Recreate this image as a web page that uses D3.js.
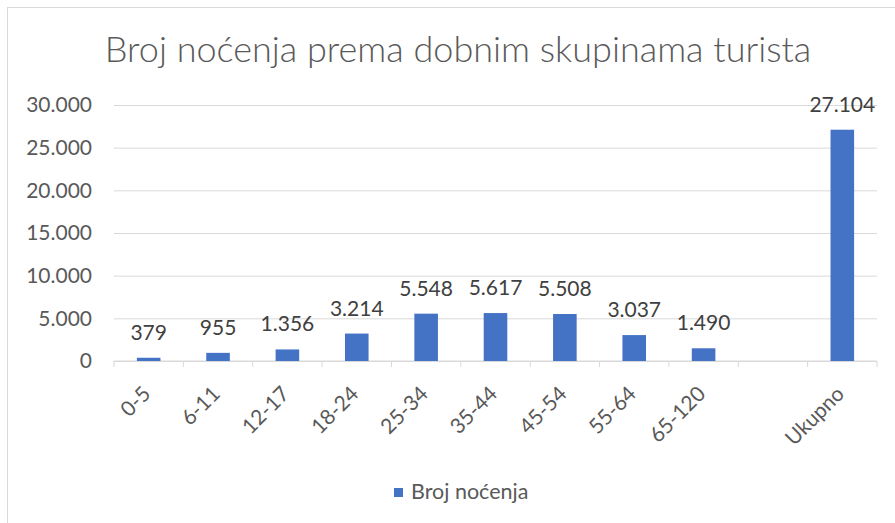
<!DOCTYPE html>
<html>
<head>
<meta charset="utf-8">
<script src="https://cdn.jsdelivr.net/npm/d3@7"></script>
<style>
  body { margin: 0; background: #fff; }
  text { font-family: Lato, "Open Sans", sans-serif; }
</style>
</head>
<body>
<script>
const width = 895;
const height = 523;

// chart data
const categories = ["0-5", "6-11", "12-17", "18-24", "25-34", "35-44", "45-54", "55-64", "65-120", "", "Ukupno"];
const values = [379, 955, 1356, 3214, 5548, 5617, 5508, 3037, 1490, null, 27104];
const yTicks = [0, 5000, 10000, 15000, 20000, 25000, 30000];
const seriesName = "Broj noćenja";

const data = categories.map((c, i) => ({ key: i, cat: c, value: values[i] }));

const margin = { left: 114, right: 18, top: 105, bottom: 162 };

const svg = d3.select("body")
  .append("svg")
  .attr("width", width)
  .attr("height", height);

// outer chart border (only left and top visible)
svg.append("rect")
  .attr("x", 7.5).attr("y", 7.5)
  .attr("width", 950).attr("height", 600)
  .attr("fill", "none")
  .attr("stroke", "#d9d9d9");

const x = d3.scaleBand()
  .domain(data.map(d => d.key))
  .range([margin.left, width - margin.right])
  .paddingInner(0.66)
  .paddingOuter(0.33);

const y = d3.scaleLinear()
  .domain([0, 30000])
  .range([height - margin.bottom, margin.top]);

const fmt = d3.formatLocale({ decimal: ",", thousands: ".", grouping: [3], currency: ["", ""] }).format(",d");

// title
svg.append("text")
  .attr("x", 458).attr("y", 62)
  .attr("text-anchor", "middle")
  .attr("fill", "#595959")
  .style("font-size", "36px")
  .style("font-weight", 300)
  .text("Broj noćenja prema dobnim skupinama turista");

// gridlines + y labels
const yAxis = d3.axisLeft(y)
  .tickValues(yTicks)
  .tickSize(-(width - margin.right - margin.left))
  .tickPadding(22)
  .tickFormat(fmt);

const gy = svg.append("g")
  .attr("transform", `translate(${margin.left},0)`)
  .call(yAxis);
gy.select(".domain").remove();
gy.selectAll(".tick line").attr("stroke", "#d9d9d9").attr("stroke-width", 1);
gy.selectAll(".tick text")
  .attr("fill", "#595959")
  .style("font-size", "21px");

// bottom axis with ticks between categories
const step = x.step();
const xAxisG = svg.append("g")
  .attr("transform", `translate(0,${y(0)})`);
xAxisG.append("line")
  .attr("x1", margin.left).attr("x2", width - margin.right)
  .attr("stroke", "#d9d9d9");
xAxisG.selectAll(".sep")
  .data(d3.range(categories.length + 1))
  .join("line")
  .attr("class", "sep")
  .attr("x1", i => x.range()[0] + i * step)
  .attr("x2", i => x.range()[0] + i * step)
  .attr("y1", 0).attr("y2", 6)
  .attr("stroke", "#d9d9d9");

xAxisG.selectAll(".cat")
  .data(data)
  .join("text")
  .attr("class", "cat")
  .attr("text-anchor", "end")
  .attr("fill", "#595959")
  .style("font-size", "21px")
  .attr("transform", d => `translate(${x(d.key) + x.bandwidth() / 2 - 2},${29}) rotate(-45)`)
  .attr("dy", "0.35em")
  .text(d => d.cat);

// bars
const barData = data.filter(d => d.value != null);
svg.selectAll(".bar")
  .data(barData)
  .join("rect")
  .attr("class", "bar")
  .attr("x", d => x(d.key))
  .attr("y", d => y(d.value))
  .attr("width", x.bandwidth())
  .attr("height", d => y(0) - y(d.value))
  .attr("fill", "#4472c4");

// value labels
svg.selectAll(".lbl")
  .data(barData)
  .join("text")
  .attr("class", "lbl")
  .attr("x", d => x(d.key) + x.bandwidth() / 2)
  .attr("y", d => y(d.value) - 18)
  .attr("text-anchor", "middle")
  .attr("fill", "#404040")
  .style("font-size", "21px")
  .text(d => fmt(d.value));

// legend
const lg = svg.append("g");
lg.append("rect")
  .attr("x", 394).attr("y", 488)
  .attr("width", 9).attr("height", 9)
  .attr("fill", "#4472c4");
lg.append("text")
  .attr("x", 411).attr("y", 499)
  .attr("fill", "#595959")
  .style("font-size", "21.5px")
  .text(seriesName);
</script>
</body>
</html>
